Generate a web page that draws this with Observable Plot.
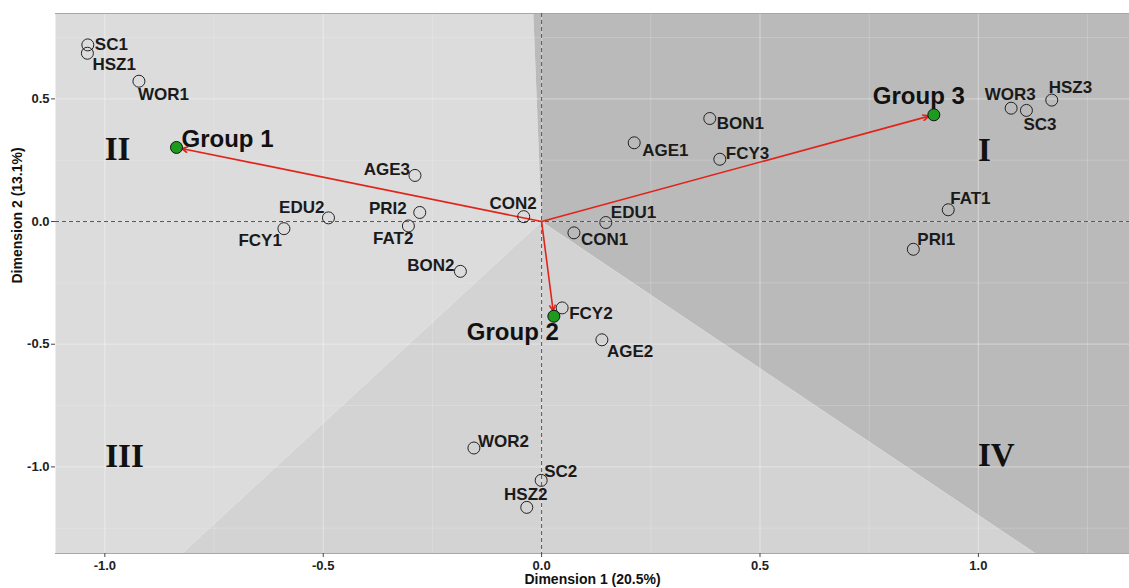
<!DOCTYPE html>
<html>
<head>
<meta charset="utf-8">
<script src="https://cdn.jsdelivr.net/npm/d3@7"></script>
<script src="https://cdn.jsdelivr.net/npm/@observablehq/plot@0.6"></script>
<style>
  html, body { margin: 0; padding: 0; background: #fff; }
  #chart svg { display: block; }
</style>
</head>
<body>
<div id="chart"></div>
<script>
// ---- data ----
const categoryNames = ["SC1","HSZ1","WOR1","EDU2","FCY1","AGE3","PRI2","FAT2","BON2","CON2","EDU1","CON1","AGE1","BON1","FCY3","WOR3","SC3","HSZ3","FAT1","PRI1","FCY2","AGE2","WOR2","SC2","HSZ2"];
const categoryDim1 = [-1.039,-1.040,-0.922,-0.488,-0.590,-0.290,-0.279,-0.305,-0.186,-0.041,0.147,0.074,0.212,0.385,0.408,1.075,1.110,1.168,0.931,0.851,0.047,0.138,-0.155,-0.001,-0.034];
const categoryDim2 = [0.720,0.686,0.572,0.015,-0.029,0.188,0.037,-0.018,-0.203,0.020,-0.004,-0.046,0.321,0.420,0.254,0.462,0.453,0.495,0.048,-0.113,-0.352,-0.482,-0.923,-1.055,-1.165];

const groupNames = ["Group 1","Group 2","Group 3"];
const groupDim1 = [-0.836,0.028,0.898];
const groupDim2 = [0.302,-0.386,0.435];

const romanLabels = ["I","II","III","IV"];
const romanDim1 = [1.014,-0.971,-0.955,1.041];
const romanDim2 = [0.290,0.294,-0.957,-0.954];

const xTicks = [-1.0,-0.5,0.0,0.5,1.0];
const yTicks = [-1.0,-0.5,0.0,0.5];
const xMinor = [-0.75,-0.25,0.25,0.75,1.25];
const yMinor = [-1.25,-0.75,-0.25,0.25,0.75];
const xDomain = [-1.113,1.346];
const yDomain = [-1.353,0.848];

// region boundaries (where the partition lines meet the panel edge)
const boundaryTopX = -0.019;
const boundaryBottomLeftX = -0.823;
const boundaryBottomRightX = 1.131;

// label placement: [textAnchor, dx, dy] (pixels)
const categoryLabelPlacement = [
  ["start",7,0],["start",5,11],["start",-1,13],["end",-4,-10],["end",-2,12],
  ["end",-5,-6],["end",-13,-4],["end",5,13],["end",-6,-6],["end",13,-13],
  ["start",5,-10],["start",7,7],["start",8,8],["start",7,5],["start",6,-6],
  ["middle",-1,-14],["start",-3,14],["start",-3,-13],["start",2,-11],["start",4,-10],
  ["start",7,6],["start",5,12],["start",4,-6],["start",3,-9],["middle",-1,-13]
];
const groupLabelPlacement = [["start",5,-8],["end",5,16],["middle",-15,-19]];

// ---- build tables ----
const categories = categoryNames.map((n,i) => ({name:n, d1:categoryDim1[i], d2:categoryDim2[i],
  anchor:categoryLabelPlacement[i][0], dx:categoryLabelPlacement[i][1], dy:categoryLabelPlacement[i][2]}));
const groups = groupNames.map((n,i) => ({name:n, d1:groupDim1[i], d2:groupDim2[i],
  anchor:groupLabelPlacement[i][0], dx:groupLabelPlacement[i][1], dy:groupLabelPlacement[i][2]}));
const romans = romanLabels.map((n,i) => ({name:n, d1:romanDim1[i], d2:romanDim2[i]}));

const [x0,x1] = xDomain, [y0,y1] = yDomain;
const regionLeft = [[0,0],[boundaryTopX,y1],[x0,y1],[x0,y0],[boundaryBottomLeftX,y0],[0,0]];
const regionRight = [[0,0],[boundaryTopX,y1],[x1,y1],[x1,y0],[boundaryBottomRightX,y0],[0,0]];
const regionBottom = [[0,0],[boundaryBottomLeftX,y0],[boundaryBottomRightX,y0],[0,0]];

const font = "'Liberation Sans', Arial, Helvetica, sans-serif";

const marks = [
  Plot.line(regionLeft, {x:d=>d[0], y:d=>d[1], fill:"#dcdcdc", stroke:"none"}),
  Plot.line(regionRight, {x:d=>d[0], y:d=>d[1], fill:"#bababa", stroke:"none"}),
  Plot.line(regionBottom, {x:d=>d[0], y:d=>d[1], fill:"#d3d3d3", stroke:"none"}),
  Plot.gridX(xMinor, {stroke:"white", strokeOpacity:0.22, strokeWidth:0.8}),
  Plot.gridY(yMinor, {stroke:"white", strokeOpacity:0.22, strokeWidth:0.8}),
  Plot.gridX(xTicks, {stroke:"white", strokeOpacity:0.32, strokeWidth:1.3}),
  Plot.gridY(yTicks, {stroke:"white", strokeOpacity:0.32, strokeWidth:1.3}),
  Plot.ruleY([y0, y1], {stroke:"#a8a8a8", strokeWidth:1.2}),
  Plot.ruleX([0], {stroke:"#555", strokeDasharray:"4,3", strokeWidth:1}),
  Plot.ruleY([0], {stroke:"#555", strokeDasharray:"4,3", strokeWidth:1}),
  Plot.axisX(xTicks, {tickSize:4, tickPadding:3, fontSize:13, fontWeight:"bold", tickFormat:d=>d.toFixed(1), label:null, stroke:"#444", fill:"#222"}),
  Plot.axisY(yTicks, {tickSize:4, tickPadding:2, fontSize:13, fontWeight:"bold", tickFormat:d=>d.toFixed(1), label:null, stroke:"#444", fill:"#222"}),
  Plot.text(["Dimension 1 (20.5%)"], {frameAnchor:"bottom", dy:30, text:d=>d, fontSize:14, fontWeight:"bold", fill:"#111"}),
  Plot.text(["Dimension 2 (13.1%)"], {frameAnchor:"left", dx:-38, rotate:-90, text:d=>d, fontSize:14, fontWeight:"bold", fill:"#111"}),
  Plot.arrow(groups, {x1:()=>0, y1:()=>0, x2:"d1", y2:"d2", stroke:"#e2231a", strokeWidth:1.6, headLength:6, headAngle:50, insetEnd:5}),
  Plot.dot(categories, {x:"d1", y:"d2", r:6, stroke:"#222", strokeWidth:1, fill:"none"}),
  Plot.dot(groups, {x:"d1", y:"d2", r:6, stroke:"#111", strokeWidth:1, fill:"#1e9a1e"}),
  ...categories.map(c => Plot.text([c], {x:"d1", y:"d2", text:"name", textAnchor:c.anchor, dx:c.dx, dy:c.dy, fontSize:17, fontWeight:"bold", fill:"#1a1a1a"})),
  ...groups.map(g => Plot.text([g], {x:"d1", y:"d2", text:"name", textAnchor:g.anchor, dx:g.dx, dy:g.dy, fontSize:24, fontWeight:"bold", fill:"#111"})),
  Plot.text(romans, {x:"d1", y:"d2", text:"name", fontSize:33, fontWeight:"bold", fontFamily:"'Liberation Serif', 'Times New Roman', serif", fill:"#111"})
];

const chart = Plot.plot({
  width:1129, height:588,
  marginLeft:55, marginRight:0, marginTop:13, marginBottom:35,
  x:{domain:xDomain, label:null},
  y:{domain:yDomain, label:null},
  style:{fontFamily:font, background:"white", overflow:"visible"},
  marks
});
document.getElementById("chart").appendChild(chart);
</script>
</body>
</html>
